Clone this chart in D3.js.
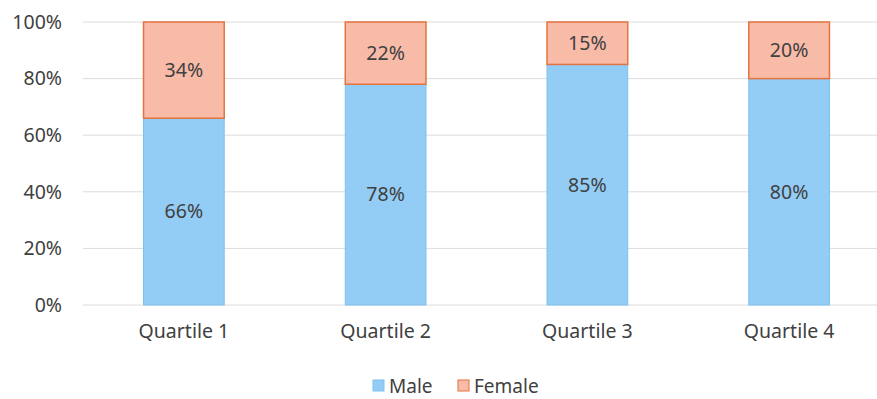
<!DOCTYPE html>
<html>
<head>
<meta charset="utf-8">
<script src="https://cdn.jsdelivr.net/npm/d3@7"></script>
<style>
    body { margin: 0; background: #fff; }
    text { font-family: "Noto Sans", "Open Sans", sans-serif; fill: #404040; }
</style>
</head>
<body>
<div id="chart"></div>
<script>
// data
const quartiles = ["Quartile 1", "Quartile 2", "Quartile 3", "Quartile 4"];
const male = [66, 78, 85, 80];
const female = [34, 22, 15, 20];
const yTicks = [0, 20, 40, 60, 80, 100];

const width = 877, height = 399;
const fontSize = "19.5px";

const svg = d3.select("#chart")
    .append("svg")
    .attr("width", width)
    .attr("height", height);

// scales
const x = d3.scaleBand()
    .domain(quartiles)
    .range([83, 890])
    .paddingInner(0.6)
    .paddingOuter(0.3);

const y = d3.scaleLinear()
    .domain([0, 100])
    .range([305, 22]);

// gridlines
svg.append("g")
    .selectAll("line")
    .data(yTicks)
    .join("line")
    .attr("x1", 83)
    .attr("x2", width)
    .attr("y1", d => y(d))
    .attr("y2", d => y(d))
    .attr("stroke", "#dcdcdc")
    .attr("stroke-width", 1);

// y axis labels
svg.append("g")
    .attr("transform", "translate(62,0)")
    .call(d3.axisLeft(y).tickValues(yTicks).tickFormat(d => d + "%").tickSize(0).tickPadding(0))
    .call(g => g.select(".domain").remove())
    .selectAll("text")
    .style("font-size", fontSize)
    .attr("fill", "#404040");

// x axis labels
svg.append("g")
    .attr("transform", "translate(0,305)")
    .call(d3.axisBottom(x).tickSize(0).tickPadding(19))
    .call(g => g.select(".domain").remove())
    .selectAll("text")
    .style("font-size", fontSize)
    .attr("fill", "#404040");

const rows = quartiles.map((q, i) => ({ q: q, male: male[i], female: female[i] }));

// male bars
svg.append("g")
    .selectAll("rect")
    .data(rows)
    .join("rect")
    .attr("x", d => x(d.q))
    .attr("width", x.bandwidth())
    .attr("y", d => y(d.male))
    .attr("height", d => y(0) - y(d.male))
    .attr("fill", "#93cdf5")
    .attr("stroke", "#7fc0ee")
    .attr("stroke-width", 1);

// female bars
svg.append("g")
    .selectAll("rect")
    .data(rows)
    .join("rect")
    .attr("x", d => x(d.q))
    .attr("width", x.bandwidth())
    .attr("y", d => y(d.male + d.female))
    .attr("height", d => y(d.male) - y(d.male + d.female))
    .attr("fill", "#f8bba8")
    .attr("stroke", "#e4733f")
    .attr("stroke-width", 1.5);

// value labels
svg.append("g")
    .selectAll("text")
    .data(rows)
    .join("text")
    .attr("x", d => x(d.q) + x.bandwidth() / 2)
    .attr("y", d => y(d.male / 2))
    .attr("dy", "0.35em")
    .attr("text-anchor", "middle")
    .style("font-size", fontSize)
    .text(d => d.male + "%");

svg.append("g")
    .selectAll("text")
    .data(rows)
    .join("text")
    .attr("x", d => x(d.q) + x.bandwidth() / 2)
    .attr("y", d => y(d.male + d.female / 2))
    .attr("dy", "0.35em")
    .attr("text-anchor", "middle")
    .style("font-size", fontSize)
    .text(d => d.female + "%");

// legend
const legend = [
    { name: "Male", fill: "#93cdf5", stroke: "#7fc0ee", x: 373 },
    { name: "Female", fill: "#f8bba8", stroke: "#e4733f", x: 458 }
];
const lg = svg.append("g")
    .selectAll("g")
    .data(legend)
    .join("g")
    .attr("transform", d => "translate(" + d.x + ",380)");
lg.append("rect")
    .attr("width", 11)
    .attr("height", 11)
    .attr("fill", d => d.fill)
    .attr("stroke", d => d.stroke);
lg.append("text")
    .attr("x", 16)
    .attr("y", 6)
    .attr("dy", "0.35em")
    .style("font-size", "19px")
    .text(d => d.name);
</script>
</body>
</html>
